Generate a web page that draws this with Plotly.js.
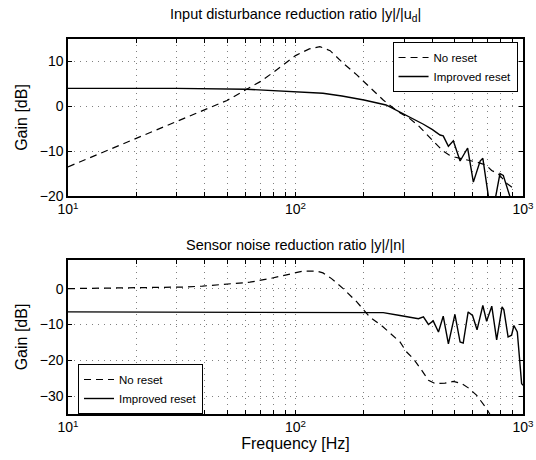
<!DOCTYPE html>
<html>
<head>
<meta charset="utf-8">
<script src="https://cdn.plot.ly/plotly-3.0.1.min.js"></script>
<style>html,body{margin:0;padding:0;background:#fff;}#chart{width:536px;height:460px;}</style>
</head>
<body>
<div id="chart"></div>
<script>
// ---- Data ----
const seriesNames = ['No reset', 'Improved reset'];

const topTitle = 'Input disturbance reduction ratio |y|/|u<sub>d</sub>|';
const bottomTitle = 'Sensor noise reduction ratio |y|/|n|';

// Top panel: No reset
const topNoResetFreq = [10, 20, 30, 40, 50, 61, 70, 80, 90, 100, 115, 128, 142, 162, 186, 212, 243, 282, 317, 345, 365, 390, 411, 443, 475, 500, 560, 623, 688, 728, 780, 850, 920];
const topNoResetGain = [-13.5, -7.2, -3.5, -0.8, 1.3, 3.8, 5.5, 7.6, 9.6, 11.3, 12.8, 13.3, 12.4, 9.6, 7.0, 4.2, 1.4, -1.2, -2.7, -4.2, -5.5, -7.2, -8.3, -9.9, -10.9, -11.3, -11.9, -12.4, -13.1, -14.3, -15.1, -17.2, -18.5];

// Top panel: Improved reset
const topImprovedFreq = [10, 30, 61, 100, 132, 160, 200, 250, 288, 320, 365, 400, 432, 446, 470, 494, 529, 571, 605, 648, 666, 728, 792, 819, 877, 920];
const topImprovedGain = [4.0, 4.0, 3.8, 3.3, 2.9, 2.3, 1.4, 0.3, -1.3, -2.6, -4.0, -5.2, -6.4, -6.6, -8.9, -7.7, -12.2, -9.3, -16.9, -12.2, -11.6, -25, -15.0, -15.4, -20.2, -26];

// Bottom panel: No reset
const botNoResetFreq = [10, 23, 32, 39, 51.5, 63, 77, 95, 108, 124, 132, 144, 162, 186, 212, 243, 288, 308, 330, 359, 384, 411, 454, 494, 538, 575, 626, 692, 760];
const botNoResetGain = [0, 0.2, 0.45, 0.7, 1.4, 1.8, 2.8, 4.0, 4.9, 4.9, 4.4, 2.8, 0, -3.7, -7.9, -10.7, -14.9, -17.7, -19.6, -22.8, -25.6, -26.5, -26.4, -25.9, -26.5, -27.7, -29.8, -33.5, -38];

// Bottom panel: Improved reset
const botImprovedFreq = [10, 100, 200, 243, 288, 320, 347, 365, 384, 403, 425, 446, 470, 502, 529, 546, 574, 600, 628, 666, 692, 729, 766, 809, 824, 860, 891, 912, 944, 986, 1000];
const botImprovedGain = [-6.5, -6.5, -6.5, -6.7, -7.5, -7.9, -8.4, -7.9, -10.0, -9.0, -12.1, -7.7, -15.4, -7.2, -14.9, -15.2, -6.5, -7.5, -11.5, -4.7, -9.1, -4.9, -14.3, -5.1, -5.9, -13.5, -13.0, -10.3, -12.1, -26.5, -27];

// Axis ticks
const xTickVals = [10, 20, 30, 40, 50, 60, 70, 80, 90, 100, 200, 300, 400, 500, 600, 700, 800, 900, 1000];
const xTickText = ['10<sup>1</sup>', '', '', '', '', '', '', '', '', '10<sup>2</sup>', '', '', '', '', '', '', '', '', '10<sup>3</sup>'];
const topYTicks = [-20, -10, 0, 10];
const botYTicks = [-30, -20, -10, 0];
const xAxisTitle = 'Frequency [Hz]';
const yAxisTitle = 'Gain [dB]';

// ---- Figure ----
const FONT = 'Liberation Sans, Arial, Helvetica, sans-serif';
const dashStyle = '7px,5px';

const traces = [
  {x: topNoResetFreq, y: topNoResetGain, name: seriesNames[0], xaxis: 'x', yaxis: 'y', legend: 'legend',
   mode: 'lines', line: {color: '#000', width: 1.2, dash: dashStyle}},
  {x: topImprovedFreq, y: topImprovedGain, name: seriesNames[1], xaxis: 'x', yaxis: 'y', legend: 'legend',
   mode: 'lines', line: {color: '#000', width: 1.4}},
  {x: botNoResetFreq, y: botNoResetGain, name: seriesNames[0], xaxis: 'x2', yaxis: 'y2', legend: 'legend2',
   mode: 'lines', line: {color: '#000', width: 1.2, dash: dashStyle}},
  {x: botImprovedFreq, y: botImprovedGain, name: seriesNames[1], xaxis: 'x2', yaxis: 'y2', legend: 'legend2',
   mode: 'lines', line: {color: '#000', width: 1.4}}
];

const gridStyle = {showgrid: true, gridcolor: '#808080', griddash: '1px,5px', gridwidth: 1};

const xCommon = Object.assign({
  type: 'log', range: [1, 3],
  tickvals: xTickVals, ticktext: xTickText,
  ticks: 'inside', ticklen: 4, tickcolor: '#000',
  showline: true, mirror: 'ticks', linecolor: '#000', linewidth: 1.6,
  zeroline: false,
  tickfont: {family: FONT, size: 14, color: '#000'}
}, gridStyle);
const yCommon = Object.assign({
  ticks: 'inside', ticklen: 4, tickcolor: '#000',
  showline: true, mirror: 'ticks', linecolor: '#000', linewidth: 1.6,
  zeroline: false,
  tickfont: {family: FONT, size: 14, color: '#000'},
  title: {text: yAxisTitle, font: {family: FONT, size: 16, color: '#000'}, standoff: 8}
}, gridStyle);

const legendCommon = {
  bordercolor: '#000', borderwidth: 1, bgcolor: '#fff',
  font: {family: FONT, size: 11.5, color: '#000'},
  tracegroupgap: 0, itemwidth: 30
};

const layout = {
  width: 536, height: 460,
  margin: {l: 68, r: 13, t: 39, b: 46},
  paper_bgcolor: '#fff', plot_bgcolor: '#fff',
  font: {family: FONT, color: '#000'},
  showlegend: true,
  xaxis: Object.assign({}, xCommon, {domain: [0, 1], anchor: 'y'}),
  yaxis: Object.assign({}, yCommon, {domain: [0.5813, 1], anchor: 'x', range: [-20, 15], tickvals: topYTicks}),
  xaxis2: Object.assign({}, xCommon, {domain: [0, 1], anchor: 'y2',
    title: {text: xAxisTitle, font: {family: FONT, size: 16, color: '#000'}, standoff: 2}}),
  yaxis2: Object.assign({}, yCommon, {domain: [0, 0.4107], anchor: 'x2', range: [-35, 8], tickvals: botYTicks}),
  legend: Object.assign({}, legendCommon, {x: 0.988, xanchor: 'right', y: 0.992, yanchor: 'top'}),
  legend2: Object.assign({}, legendCommon, {x: 0.022, xanchor: 'left', y: 0.0, yanchor: 'bottom'}),
  annotations: [
    {text: topTitle, xref: 'paper', yref: 'paper', x: 0.5, y: 1.064, xanchor: 'center', yanchor: 'middle',
     showarrow: false, font: {family: FONT, size: 14.5, color: '#000'}},
    {text: bottomTitle, xref: 'paper', yref: 'paper', x: 0.5, y: 0.4507, xanchor: 'center', yanchor: 'middle',
     showarrow: false, font: {family: FONT, size: 14.5, color: '#000'}}
  ]
};

Plotly.newPlot('chart', traces, layout, {staticPlot: true, displayModeBar: false});
</script>
</body>
</html>
